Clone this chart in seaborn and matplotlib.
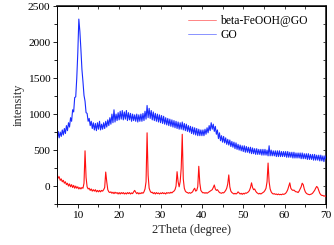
import numpy as np
import pandas as pd
import seaborn as sns
import matplotlib
matplotlib.use("Agg")
import matplotlib.pyplot as plt
from matplotlib.ticker import MultipleLocator

# 2Theta sampling grid (degrees), 0.25 step
theta = np.arange(5.0, 70.001, 0.25)

go_intensity = [
    640, 760, 670, 750, 690, 780, 710, 800, 730, 840, 770, 880, 820, 950, 900, 1060, 1030, 1230, 1240, 1500,
    1850, 2320, 2150, 1900, 1620, 1450, 1260, 1180, 1020, 1010, 900, 940, 840, 900, 800, 880, 780, 870, 770, 880,
    790, 900, 780, 860, 790, 880, 800, 900, 820, 920, 840, 950, 860, 1000, 880, 1060, 890, 1000, 910, 1020,
    920, 1040, 930, 1050, 920, 1030, 930, 1050, 910, 1020, 920, 1010, 900, 1000, 910, 990, 900, 1000, 890, 990,
    900, 1000, 900, 1010, 910, 1040, 930, 1120, 950, 1080, 940, 1050, 920, 1030, 910, 1010, 900, 1000, 890, 990,
    880, 980, 870, 970, 860, 950, 850, 940, 840, 930, 830, 920, 820, 910, 810, 900, 800, 890, 790, 880,
    790, 890, 780, 870, 770, 860, 760, 840, 750, 830, 730, 820, 720, 810, 710, 800, 700, 790, 700, 780,
    700, 780, 700, 790, 720, 810, 740, 840, 770, 880, 790, 860, 760, 830, 720, 780, 660, 740, 630, 700,
    610, 690, 600, 670, 580, 650, 570, 640, 550, 620, 540, 610, 520, 600, 510, 580, 500, 570, 490, 560,
    480, 560, 470, 550, 470, 540, 460, 540, 450, 530, 450, 520, 440, 520, 440, 510, 440, 510, 430, 510,
    430, 510, 430, 500, 420, 560, 420, 500, 420, 490, 420, 490, 410, 490, 410, 490, 410, 480, 410, 480,
    410, 480, 400, 480, 400, 470, 400, 470, 390, 470, 390, 460, 390, 460, 390, 460, 380, 460, 380, 450,
    380, 450, 370, 450, 370, 440, 370, 440, 360, 440, 360, 430, 360, 430, 350, 430, 350, 420, 340, 420,
    380,
]

feooh_go_intensity = [
    170, 110, 130, 80, 100, 60, 80, 40, 60, 20, 40, 0, 30, -10, 20, -20, 10, -30, 0, -30,
    -10, -40, -20, -40, -20, -30, 40, 490, 120, -10, -40, -30, -60, -40, -70, -50, -70, -50, -80, -60,
    -80, -60, -80, -60, -70, -50, -20, 195, 60, -50, -80, -90, -80, -100, -85, -105, -85, -100, -90, -110,
    -90, -110, -90, -105, -90, -110, -95, -110, -90, -105, -90, -110, -95, -105, -80, -60, -85, -105, -90, -110,
    -95, -105, -90, -100, -80, -40, 60, 740, 150, -30, -70, -90, -85, -105, -90, -110, -90, -105, -95, -110,
    -95, -105, -90, -105, -95, -110, -90, -100, -90, -100, -85, -95, -80, -70, -50, 0, 200, 60, -10, 60,
    250, 720, 100, -30, -70, -85, -90, -100, -90, -100, -90, -80, -50, -30, -70, -60, -10, 275, 40, -60,
    -80, -95, -90, -100, -90, -100, -90, -80, -70, -60, -50, -20, 15, -40, -60, -50, -70, -90, -95, -100,
    -90, -95, -80, -60, -30, 30, 155, -10, -70, -90, -100, -110, -100, -110, -100, -80, -95, -110, -100, -115,
    -100, -110, -95, -100, -90, -80, -60, -20, 45, -20, -50, -40, -70, -90, -100, -110, -100, -110, -100, -90,
    -80, -60, -30, 60, 320, 60, -40, -80, -100, -110, -105, -115, -110, -120, -110, -120, -115, -120, -110, -115,
    -110, -100, -80, -50, 0, 45, -30, -50, -60, -55, -70, -80, -80, -90, -70, -40, -10, 40, 20, -40,
    -80, -100, -110, -115, -120, -115, -110, -100, -80, -60, -30, -5, -20, -60, -100, -120, -130, -130, -140, -135,
    -145,
]

series_names = ["beta-FeOOH@GO", "GO"]
x_ticks = [10, 20, 30, 40, 50, 60, 70]
y_ticks = [0, 500, 1000, 1500, 2000, 2500]

df = pd.concat([
    pd.DataFrame({"theta": theta, "intensity": feooh_go_intensity, "sample": series_names[0]}),
    pd.DataFrame({"theta": theta, "intensity": go_intensity, "sample": series_names[1]}),
])

sns.set_theme(style="ticks")
plt.rcParams["font.family"] = ["Liberation Serif", "DejaVu Serif"]

fig = plt.figure(figsize=(3.34, 2.45), dpi=100)
ax = fig.add_axes([0.171, 0.167, 0.805, 0.808])

sns.lineplot(data=df, x="theta", y="intensity", hue="sample",
             palette={"beta-FeOOH@GO": "#ff1010", "GO": "#1a2cff"},
             linewidth=0.8, sort=False, estimator=None, ax=ax)

ax.set_xlim(5, 70)
ax.set_ylim(-250, 2500)
ax.set_xticks(x_ticks)
ax.set_yticks(y_ticks)
ax.xaxis.set_minor_locator(MultipleLocator(5))
ax.yaxis.set_minor_locator(MultipleLocator(250))
ax.tick_params(axis="both", which="both", labelsize=8.2, width=0.6, color="black",
               labelcolor="black", pad=2, direction="out")
ax.tick_params(which="major", length=3)
ax.tick_params(which="minor", length=2)
ax.tick_params(top=False, right=False, which="both")
for side in ["left", "right", "top", "bottom"]:
    ax.spines[side].set_visible(True)
    ax.spines[side].set_color("black")
    ax.spines[side].set_linewidth(0.7)

# inward ticks on top/right only
sec_x = ax.secondary_xaxis("top")
sec_x.set_xticks(x_ticks)
sec_x.xaxis.set_minor_locator(MultipleLocator(5))
sec_x.tick_params(which="both", direction="in", labeltop=False, width=0.6, length=2)
sec_y = ax.secondary_yaxis("right")
sec_y.set_yticks(y_ticks)
sec_y.yaxis.set_minor_locator(MultipleLocator(250))
sec_y.tick_params(which="both", direction="in", labelright=False, width=0.6, length=2.5)

ax.set_xlabel("2Theta (degree)", fontsize=9, labelpad=3)
ax.set_ylabel("intensity", fontsize=8.8, labelpad=2)

leg = ax.legend(loc="upper left", bbox_to_anchor=(0.487, 0.955), frameon=False,
                fontsize=8.4, handlelength=2.4, handletextpad=0.34,
                labelspacing=0.2, borderaxespad=0.0, borderpad=0.0)
for line in leg.get_lines():
    line.set_linewidth(0.6)
    line.set_alpha(0.6)
for t in leg.get_texts():
    t.set_color("black")

fig.savefig("out.png", dpi=100)
